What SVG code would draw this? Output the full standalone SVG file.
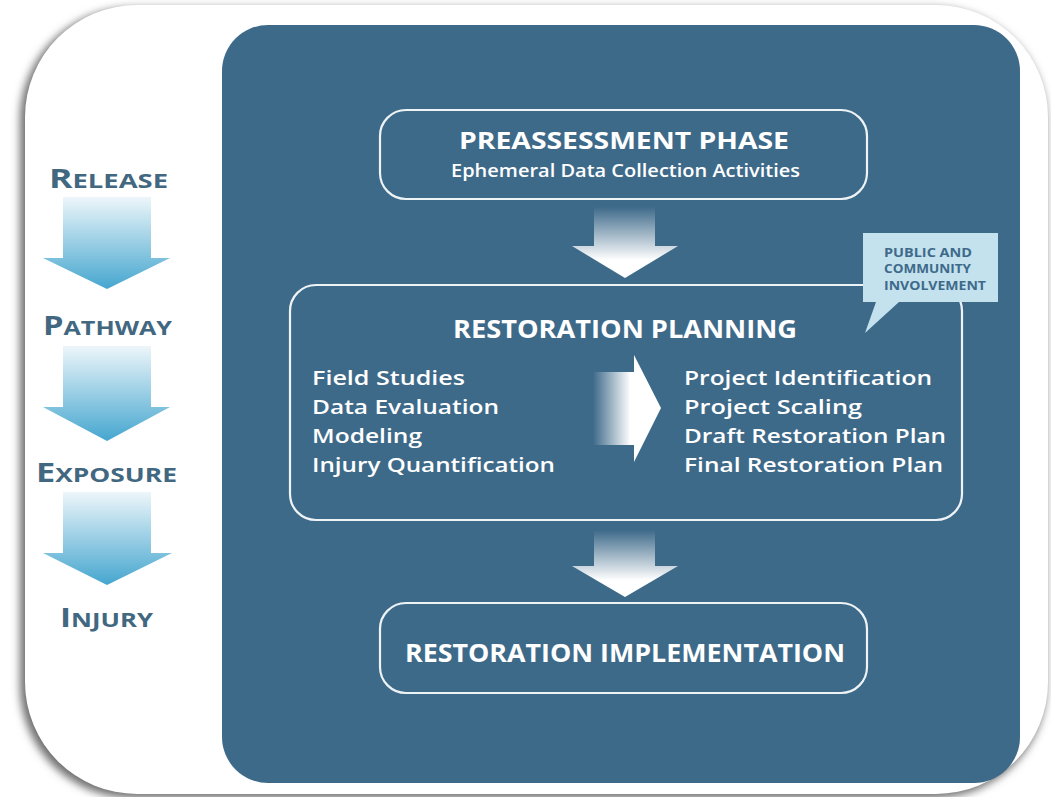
<svg xmlns="http://www.w3.org/2000/svg" width="1051" height="797" viewBox="0 0 1051 797">
<defs>
<filter id="sh" x="-10%" y="-10%" width="120%" height="120%">
<feGaussianBlur stdDeviation="4"/>
</filter>
<linearGradient id="gDown" x1="0" y1="0" x2="0" y2="1">
<stop offset="0" stop-color="#ffffff" stop-opacity="0"/>
<stop offset="0.75" stop-color="#ffffff" stop-opacity="1"/>
</linearGradient>
<linearGradient id="gRight" x1="0" y1="0" x2="1" y2="0">
<stop offset="0" stop-color="#ffffff" stop-opacity="0"/>
<stop offset="0.55" stop-color="#ffffff" stop-opacity="1"/>
</linearGradient>
<linearGradient id="gBlue" x1="0" y1="0" x2="0" y2="1">
<stop offset="0" stop-color="#edf6fa"/>
<stop offset="1" stop-color="#45a6cf"/>
</linearGradient>
<style>
.box{fill:none;stroke:#eef3f6;stroke-width:2.2}
.t{font-family:"Open Sans","Liberation Sans",sans-serif;fill:#ffffff}
.h{font-weight:700}
.li{font-size:20.5px;font-weight:600}
.side{font-family:"Open Sans","Liberation Sans",sans-serif;fill:#426780;font-weight:700}
.big{font-size:26px}
.sm{font-size:20px}
.bub{font-family:"Open Sans","Liberation Sans",sans-serif;fill:#3e6a8a;font-weight:700;font-size:13px}
</style>
</defs>
<rect width="1051" height="797" fill="#ffffff"/>
<g id="card">
<rect x="20" y="8" width="1026" height="790" rx="112" fill="#6e6e6e" filter="url(#sh)"/>
<rect x="25" y="5" width="1023" height="789" rx="112" fill="#ffffff"/>
</g>
<g id="panel">
<rect x="222" y="25" width="798" height="758" rx="46" fill="#3e6a8a"/>
</g>
<g id="sidechain">
<g id="release"><text class="side" x="49" y="188" textLength="119" lengthAdjust="spacingAndGlyphs"><tspan class="big">R</tspan><tspan class="sm">ELEASE</tspan></text></g>
<g id="pathway"><text class="side" x="43" y="335" textLength="129" lengthAdjust="spacingAndGlyphs"><tspan class="big">P</tspan><tspan class="sm">ATHWAY</tspan></text></g>
<g id="exposure"><text class="side" x="36" y="482" textLength="141" lengthAdjust="spacingAndGlyphs"><tspan class="big">E</tspan><tspan class="sm">XPOSURE</tspan></text></g>
<g id="injury"><text class="side" x="60" y="627" textLength="93" lengthAdjust="spacingAndGlyphs"><tspan class="big">I</tspan><tspan class="sm">NJURY</tspan></text></g>
</g>
<g id="connectors">
<polygon points="63,197 151,197 151,258 170,258 107,289 43,258 63,258" fill="url(#gBlue)"/>
<polygon points="63,346 151,346 151,407 170,407 107,441 43,407 63,407" fill="url(#gBlue)"/>
<polygon points="63,492 151,492 151,553 172,553 107,585 43,553 63,553" fill="url(#gBlue)"/>
<polygon points="594,207 655,207 655,246 678,246 625,278 572,246 594,246" fill="url(#gDown)"/>
<polygon points="594,530 655,530 655,566 678,566 625,597 572,566 594,566" fill="url(#gDown)"/>
<polygon points="593,372 634,372 634,355 661,408 634,462 634,445 593,445" fill="url(#gRight)"/>
</g>
<g id="preassessment">
<rect class="box" x="380" y="110" width="487" height="89" rx="26"/>
<text class="t h" x="459" y="149" font-size="24" textLength="330" lengthAdjust="spacingAndGlyphs">PREASSESSMENT PHASE</text>
<text class="t" x="451" y="177" font-size="17.5" font-weight="600" textLength="349" lengthAdjust="spacingAndGlyphs">Ephemeral Data Collection Activities</text>
</g>
<g id="planning">
<rect class="box" x="290" y="285" width="672" height="235" rx="26"/>
<text class="t h" x="453" y="338" font-size="25" textLength="344" lengthAdjust="spacingAndGlyphs">RESTORATION PLANNING</text>
<text class="t li" x="312" y="385" textLength="153" lengthAdjust="spacingAndGlyphs">Field Studies</text>
<text class="t li" x="312" y="414" textLength="187" lengthAdjust="spacingAndGlyphs">Data Evaluation</text>
<text class="t li" x="312" y="443" textLength="110" lengthAdjust="spacingAndGlyphs">Modeling</text>
<text class="t li" x="312" y="472" textLength="243" lengthAdjust="spacingAndGlyphs">Injury Quantification</text>
<text class="t li" x="684" y="385" textLength="248" lengthAdjust="spacingAndGlyphs">Project Identification</text>
<text class="t li" x="684" y="414" textLength="178" lengthAdjust="spacingAndGlyphs">Project Scaling</text>
<text class="t li" x="684" y="443" textLength="262" lengthAdjust="spacingAndGlyphs">Draft Restoration Plan</text>
<text class="t li" x="684" y="472" textLength="259" lengthAdjust="spacingAndGlyphs">Final Restoration Plan</text>
</g>
<g id="public">
<path d="M863,233 H998 V302 H899 L865,333 L876,302 H863 Z" fill="#c4e1ee"/>
<text class="bub" x="884" y="257" textLength="88" lengthAdjust="spacingAndGlyphs">PUBLIC AND</text>
<text class="bub" x="884" y="273" textLength="87" lengthAdjust="spacingAndGlyphs">COMMUNITY</text>
<text class="bub" x="884" y="290" textLength="102" lengthAdjust="spacingAndGlyphs">INVOLVEMENT</text>
</g>
<g id="implementation">
<rect class="box" x="380" y="603" width="487" height="90" rx="26"/>
<text class="t h" x="405" y="662" font-size="25" textLength="440" lengthAdjust="spacingAndGlyphs">RESTORATION IMPLEMENTATION</text>
</g>
</svg>
